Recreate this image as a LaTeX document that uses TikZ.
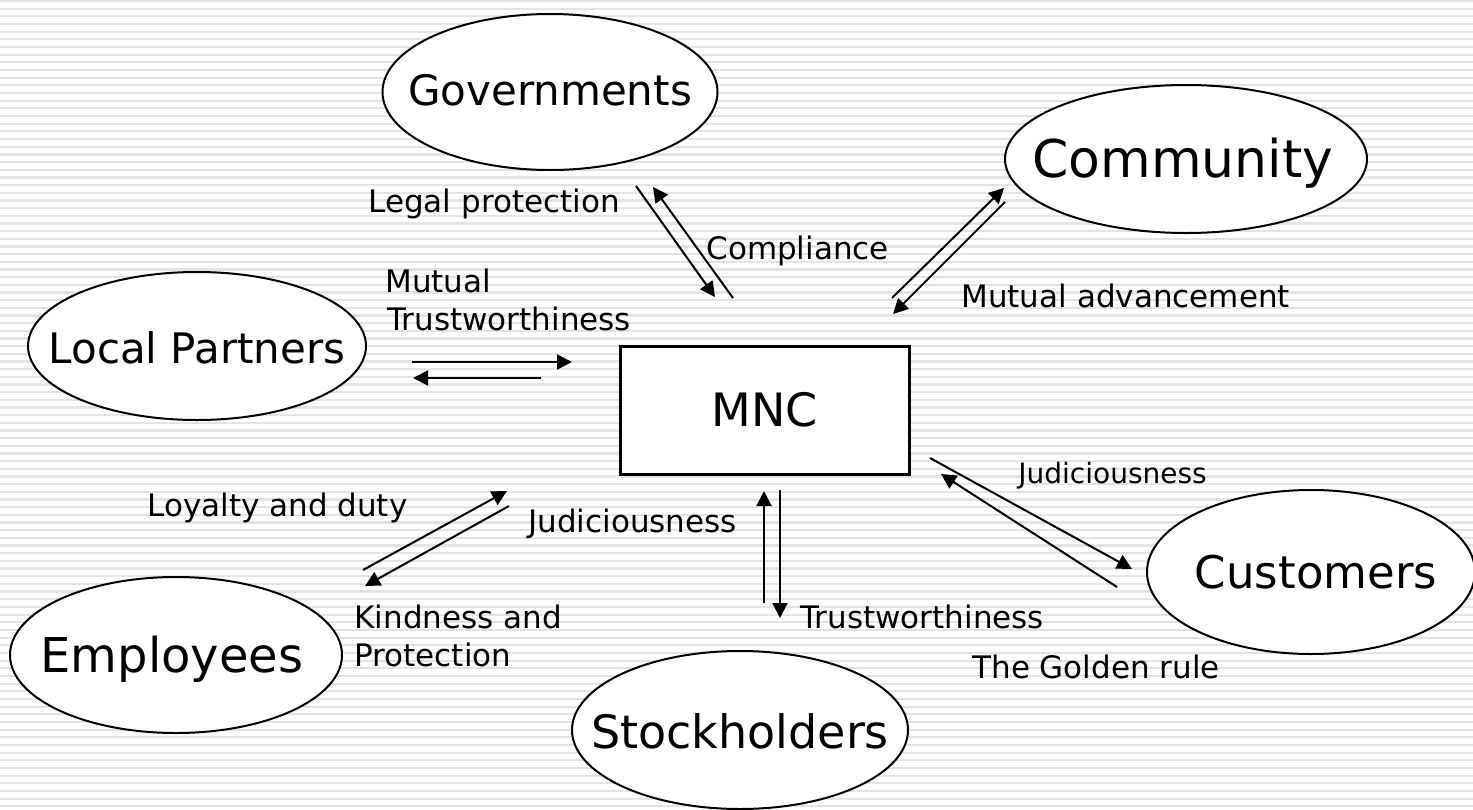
\documentclass[tikz,border=0pt]{standalone}
\usepackage{fontspec}
\setmainfont{DejaVu Sans}
\usetikzlibrary{arrows.meta}
\tikzset{
        >={Triangle[length=7.5pt,width=7.5pt]}, % filled arrow heads
        flow/.style={->, line width=1pt},
        party/.style={draw, line width=1pt, fill=white},
        stripe/.style={line width=1.1pt, black!11},
        tag/.style={anchor=base west, inner sep=0pt, font=\fontsize{15.5pt}{19pt}\selectfont},
        who/.style={anchor=base, inner sep=0pt, font=\fontsize{#1}{#1}\selectfont}
        }
\begin{document}
\begin{tikzpicture}[x=0.5pt, y=-0.5pt]
        \useasboundingbox (0,0) rectangle (1473,809);
        % striped background
        \foreach \i in {0,...,105}
                \draw[stripe] (0,{1+7.67*\i}) -- (1473,{1+7.67*\i});

        % the stakeholders
        \draw[party] (550,92) ellipse [x radius=83.75pt, y radius=39pt];
        \node[who=21pt] (gov) at (550,105) {Governments};
        \draw[party] (1186,159) ellipse [x radius=90.5pt, y radius=37pt];
        \node[who=26pt] (com) at (1183,177) {Community};
        \draw[party] (197,346) ellipse [x radius=84.5pt, y radius=37pt];
        \node[who=21pt] (loc) at (197,363) {Local Partners};
        \draw[party] (1311,572) ellipse [x radius=82pt, y radius=41pt];
        \node[who=22.5pt] (cus) at (1316,588) {Customers};
        \draw[party] (176,655) ellipse [x radius=83pt, y radius=39pt];
        \node[who=24pt] (emp) at (172,672) {Employees};
        \draw[party] (740,730) ellipse [x radius=84pt, y radius=39.5pt];
        \node[who=23pt] (sto) at (740,748) {Stockholders};

        \node[draw, line width=1.5pt, fill=white, minimum width=144.5pt, minimum height=64pt,
              font=\fontsize{23pt}{23pt}\selectfont] (mnc) at (764.5,410) {MNC};

        % arrow ends
        \coordinate (g1) at (636,186); \coordinate (g2) at (715,297);
        \coordinate (g3) at (733,298); \coordinate (g4) at (653,187);
        \coordinate (c1) at (892,298); \coordinate (c2) at (1004,188);
        \coordinate (c3) at (1005,202); \coordinate (c4) at (893,314);
        \coordinate (p1) at (412,362); \coordinate (p2) at (572,362);
        \coordinate (p3) at (541,378); \coordinate (p4) at (413,378);
        \coordinate (e1) at (363,570); \coordinate (e2) at (507,491);
        \coordinate (e3) at (509,506); \coordinate (e4) at (365,586);
        \coordinate (s1) at (764,603); \coordinate (s2) at (764,491);
        \coordinate (s3) at (780,490); \coordinate (s4) at (780,618);
        \coordinate (k1) at (930,458); \coordinate (k2) at (1132,569);
        \coordinate (k3) at (1117,587); \coordinate (k4) at (941,474);

        \draw[flow] (g1) -- (g2);
        \draw[flow] (g3) -- (g4);
        \draw[flow] (c1) -- (c2);
        \draw[flow] (c3) -- (c4);
        \draw[flow] (p1) -- (p2);
        \draw[flow] (p3) -- (p4);
        \draw[flow] (e1) -- (e2);
        \draw[flow] (e3) -- (e4);
        \draw[flow] (s1) -- (s2);
        \draw[flow] (s3) -- (s4);
        \draw[flow] (k1) -- (k2);
        \draw[flow] (k3) -- (k4);

        % what flows
        \node[tag] (legal) at (368,212) {Legal protection};
        \node[tag] (compl) at (706,259) {Compliance};
        \node[tag] (mut1) at (385,292) {Mutual};
        \node[tag] (mut2) at (387,330) {Trustworthiness};
        \node[tag] (adv) at (961,307) {Mutual advancement};
        \node[tag] (loyal) at (147,516) {Loyalty and duty};
        \node[tag] (judl) at (528,532) {Judiciousness};
        \node[tag, font=\fontsize{14pt}{17pt}\selectfont] (judr) at (1018,483) {Judiciousness};
        \node[tag] (kind1) at (354,628) {Kindness and};
        \node[tag] (kind2) at (354,666) {Protection};
        \node[tag] (trust) at (800,628) {Trustworthiness};
        \node[tag] (gold) at (972,678) {The Golden rule};
\end{tikzpicture}
\end{document}
